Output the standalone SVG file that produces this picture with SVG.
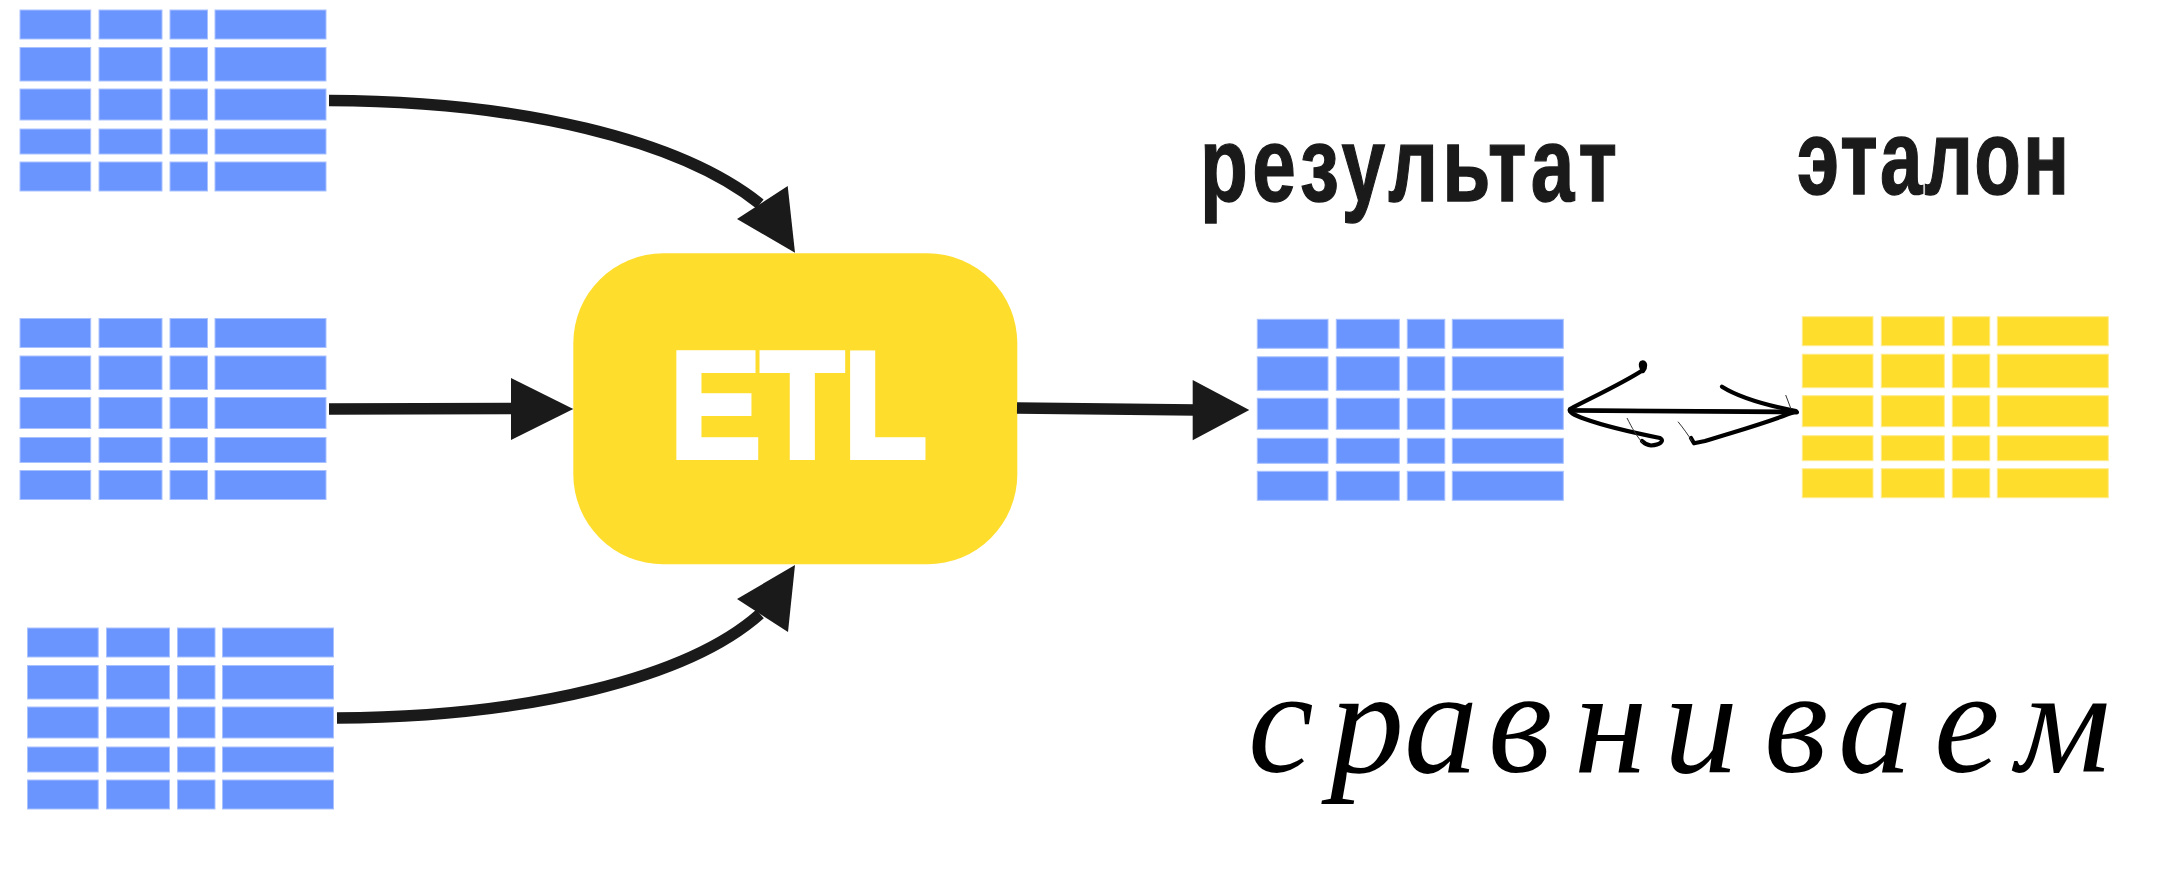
<svg xmlns="http://www.w3.org/2000/svg" width="2167" height="896" viewBox="0 0 2167 896">
<style>
.blue{fill:#6A95FF;stroke:#A9C1FF;stroke-width:1}
.yellow{fill:#FFDD2D;stroke:#FFEC8F;stroke-width:1}
.label{font-family:"Liberation Sans",Arial,sans-serif;font-weight:700;fill:#1A1A1A;stroke:#1A1A1A;stroke-width:1.4}
.etl{font-family:"Liberation Sans",Arial,sans-serif;font-weight:700;fill:#FFFFFF;stroke:#FFFFFF;stroke-width:6;stroke-linejoin:miter}
.conn{fill:none;stroke:#1A1A1A;stroke-width:11.5}
.head{fill:#1A1A1A}
.hand{fill:none;stroke:#000;stroke-width:4.2;stroke-linecap:round;stroke-linejoin:round}
.thin{fill:none;stroke:#333;stroke-width:1}
.script{font-family:"Liberation Serif","DejaVu Serif",serif;font-style:italic;fill:#000}
</style>
<defs>
<g id="grid">
<rect x="0" y="0" width="70.7" height="29"/><rect x="79" y="0" width="63" height="29"/><rect x="150" y="0" width="37.5" height="29"/><rect x="195" y="0" width="111" height="29"/>
<rect x="0" y="37.5" width="70.7" height="33.5"/><rect x="79" y="37.5" width="63" height="33.5"/><rect x="150" y="37.5" width="37.5" height="33.5"/><rect x="195" y="37.5" width="111" height="33.5"/>
<rect x="0" y="79" width="70.7" height="31"/><rect x="79" y="79" width="63" height="31"/><rect x="150" y="79" width="37.5" height="31"/><rect x="195" y="79" width="111" height="31"/>
<rect x="0" y="119" width="70.7" height="25"/><rect x="79" y="119" width="63" height="25"/><rect x="150" y="119" width="37.5" height="25"/><rect x="195" y="119" width="111" height="25"/>
<rect x="0" y="152" width="70.7" height="29"/><rect x="79" y="152" width="63" height="29"/><rect x="150" y="152" width="37.5" height="29"/><rect x="195" y="152" width="111" height="29"/>
</g>
</defs>

<g id="source1"><use href="#grid" class="blue" transform="translate(20,10)"/></g>
<g id="source2"><use href="#grid" class="blue" transform="translate(20,318.5)"/></g>
<g id="source3"><use href="#grid" class="blue" transform="translate(27.5,628)"/></g>

<g id="etl">
<rect x="573.3" y="253.3" width="444" height="311" rx="90" ry="90" fill="#FFDD2D"/>
<text class="etl" x="670" y="457" font-size="151" textLength="257" lengthAdjust="spacingAndGlyphs">ETL</text>
</g>

<g id="result">
<use href="#grid" class="blue" transform="translate(1257.3,319.3)"/>
<text class="label" transform="translate(1200,200.5) scale(0.74,1)" x="0" y="0" font-size="106" textLength="563.5" lengthAdjust="spacing">результат</text>
</g>

<g id="etalon">
<use href="#grid" class="yellow" transform="translate(1802.3,316.7)"/>
<text class="label" transform="translate(1797,194) scale(0.72,1)" x="0" y="0" font-size="106" textLength="378" lengthAdjust="spacing">эталон</text>
</g>

<g id="connectors">
<path class="conn" d="M329,100.5 C520,101 680,140 760,204"/>
<polygon class="head" points="795,252.7 787.7,186 737,219"/>
<path class="conn" d="M329,409 L515,408.5"/>
<polygon class="head" points="573.3,409 511,378 511,440"/>
<path class="conn" d="M337,718 C528,717 688,678 760,614"/>
<polygon class="head" points="795,565 788,632 737,599"/>
<path class="conn" d="M1017,408 L1196,410"/>
<polygon class="head" points="1249.3,410 1192.7,380 1192.7,440.3"/>
</g>

<g id="compare">
<path class="hand" d="M1570,410.7 L1797,412.3"/>
<path class="hand" d="M1575,409.6 L1794,410.8" style="stroke-width:2.5"/>
<path class="hand" d="M1643,371 C1646,367 1646,362 1642,362.5 C1640,364 1641,368 1643,370 C1625,382 1595,396 1570,409 C1568,412 1574,415 1585,419 C1610,428 1640,434 1660,438 C1665,441 1660,445 1651,445.5 C1646,445 1644,443 1642,441"/>
<path class="thin" d="M1627,418 C1632,428 1637,437 1643,443"/>
<path class="hand" d="M1722,386.7 C1740,398 1765,405 1796,411 C1770,422 1740,430 1705,441 L1694,443.3 L1691,438"/>
<path class="thin" d="M1678,421.7 C1684,429 1688,435 1692,441"/>
<path class="thin" d="M1785.7,395 L1791,409"/>
<text class="script" font-size="148" y="772" x="1248 1330 1404 1488 1574 1664 1764 1838 1934 2016">сравниваем</text>
</g>
</svg>
